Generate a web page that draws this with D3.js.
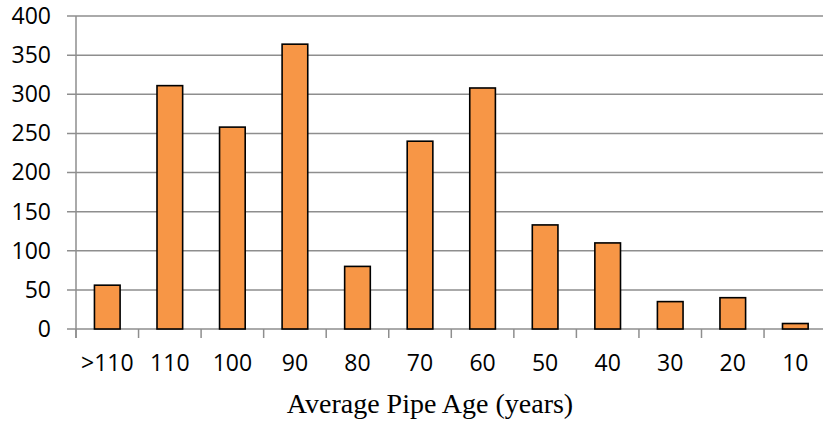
<!DOCTYPE html>
<html>
<head>
<meta charset="utf-8">
<script src="https://cdn.jsdelivr.net/npm/d3@7"></script>
<style>
  body { margin: 0; background: #fff; }
  .tick text { font-family: "Open Sans", sans-serif; font-size: 23px; fill: #000; }
</style>
</head>
<body>
<svg id="chart" width="823" height="425"></svg>
<script>
// categories and values
const ageLabels = [">110", "110", "100", "90", "80", "70", "60", "50", "40", "30", "20", "10"];
const pipeCounts = [56, 311, 258, 364, 80, 240, 308, 133, 110, 35, 40, 7];
const yTicks = [0, 50, 100, 150, 200, 250, 300, 350, 400];

const svg = d3.select("#chart");
const margin = { top: 16, left: 76 };
const plotW = 750.6; // right edge runs past the crop, like the original
const plotH = 313;

const x = d3.scaleBand().domain(ageLabels).range([0, plotW]).paddingInner(0.59).paddingOuter(0.295);
const y = d3.scaleLinear().domain([0, 400]).range([plotH, 0]);

const g = svg.append("g").attr("transform", `translate(${margin.left},${margin.top})`);

// horizontal gridlines
g.selectAll("line.grid")
    .data(yTicks)
    .enter()
    .append("line")
    .attr("class", "grid")
    .attr("x1", -9)
    .attr("x2", plotW)
    .attr("y1", d => y(d))
    .attr("y2", d => y(d))
    .attr("stroke", "#8e8e8e")
    .attr("stroke-width", 1.5);

// y axis labels
const yAxis = g.append("g")
    .call(d3.axisLeft(y).tickValues(yTicks).tickSize(0).tickPadding(25));
yAxis.select(".domain").remove();

// x axis with ticks between the bands
const xAxis = g.append("g")
    .attr("transform", `translate(0,${plotH})`)
    .call(d3.axisBottom(x).tickSize(0).tickPadding(26));
xAxis.select(".domain").remove();

const bounds = ageLabels.map((d, i) => i * x.step()).concat([plotW]);
g.selectAll("line.xtick")
    .data(bounds)
    .enter()
    .append("line")
    .attr("class", "xtick")
    .attr("x1", d => d)
    .attr("x2", d => d)
    .attr("y1", plotH)
    .attr("y2", plotH + 9)
    .attr("stroke", "#8e8e8e")
    .attr("stroke-width", 1.5);

// y axis line
g.append("line")
    .attr("x1", 0).attr("x2", 0)
    .attr("y1", 0).attr("y2", plotH + 9)
    .attr("stroke", "#8e8e8e")
    .attr("stroke-width", 1.5);

// bars
g.selectAll("rect.bar")
    .data(pipeCounts)
    .enter()
    .append("rect")
    .attr("class", "bar")
    .attr("x", (d, i) => x(ageLabels[i]))
    .attr("y", d => y(d))
    .attr("width", x.bandwidth())
    .attr("height", d => plotH - y(d))
    .attr("fill", "#F79646")
    .attr("stroke", "#000")
    .attr("stroke-width", 1.6);

// axis title
svg.append("text")
    .attr("x", 430)
    .attr("y", 413)
    .attr("text-anchor", "middle")
    .attr("font-family", "'Liberation Serif', 'Times New Roman', serif")
    .attr("font-size", 28)
    .text("Average Pipe Age (years)");
</script>
</body>
</html>
